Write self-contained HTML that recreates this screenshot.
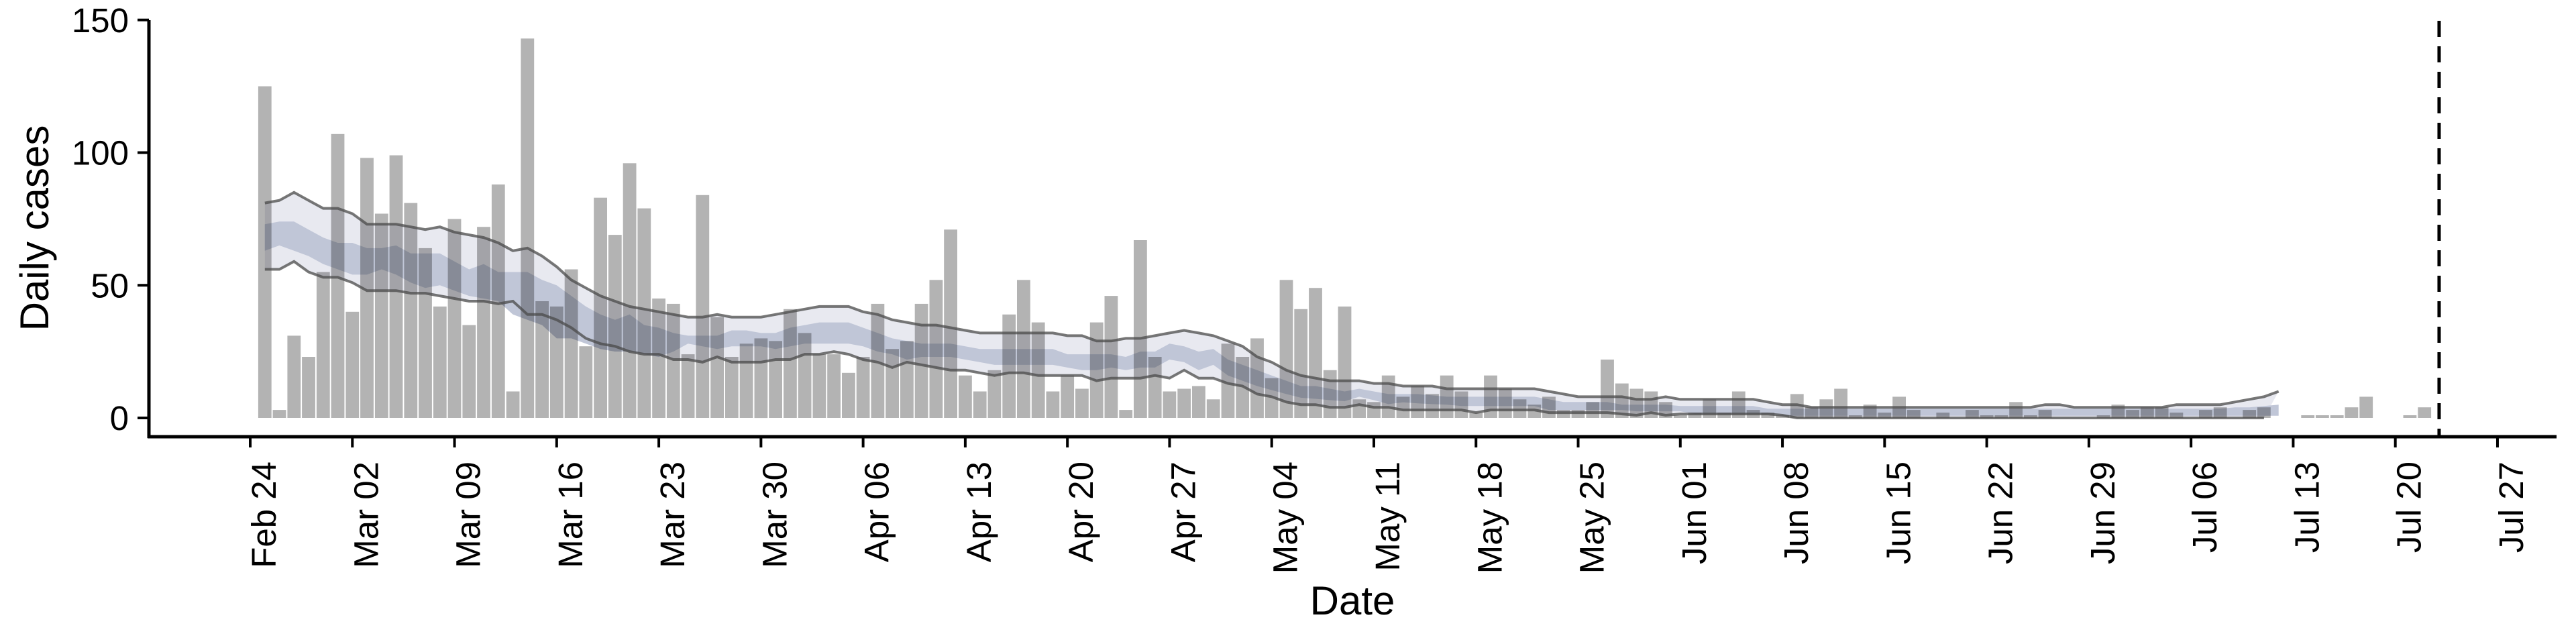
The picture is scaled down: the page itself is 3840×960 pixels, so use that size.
<!DOCTYPE html>
<html>
<head>
<meta charset="utf-8">
<style>
  html, body { margin: 0; padding: 0; background: #ffffff; }
  svg { display: block; }
  text { font-family: "Liberation Sans", "DejaVu Sans", sans-serif; fill: #000; }
</style>
</head>
<body>
<svg id="chart" width="3840" height="960" viewBox="0 0 3840 960" xmlns="http://www.w3.org/2000/svg">
  <g id="bands"></g>
  <g id="bars"></g>
  <g id="lines"></g>
  <g id="axes"></g>
  <text x="0" y="0" font-size="60" text-anchor="middle" transform="translate(72,340) rotate(-90)">Daily cases</text>
  <text x="2016" y="916" font-size="60" text-anchor="middle">Date</text>
</svg>
<script>
// ---- data (day index: 0 = Feb 24) ----
const caseStartDay = 1;
const dailyCases = [125,3,31,23,55,107,40,98,77,99,81,64,42,75,35,72,88,10,143,44,42,56,27,83,69,96,79,45,43,24,84,38,23,28,30,29,41,32,24,24,17,23,43,26,29,43,52,71,16,10,18,39,52,36,10,16,11,36,46,3,67,23,10,11,12,7,28,23,30,15,52,41,49,18,42,7,6,16,8,12,9,16,10,2,16,11,7,5,8,3,3,6,22,13,11,10,6,1,2,7,2,10,3,2,1,9,4,7,11,1,5,2,8,3,0,2,0,3,1,1,6,1,3,0,0,0,1,5,3,4,4,2,0,3,4,0,3,4,0,0,1,1,1,4,8,0,0,1,4];
const modelStartDay = 1;
const outerUpper = [81,82,85,82,79,79,77,73,73,73, 72,71,72,70,69,68,66,63,64,61, 57,52,49,46,44,42,41,40,39,38, 38,39,38,38,38,39,40,41,42,42, 42,40,39,37,36,35,35,34,33,32, 32,32,32,32,32,31,31,29,29,30,
  30,31,32,33,32,31,29,27,23,21, 18,16,15,14,14,14,13,13,12,12, 12,11,
  11,11,11,11,11,11, 10,9,8,8,8,8,7,7,8,7, 7,7,7,7,7, 6,5,5, 4,4,4,4,4,4,4,4,4,4,4,4,4,4,4,4, 5,5, 4,4,4,4,4,4,4, 5,5,5,5, 6,7,8,10];
const outerLower = [56,56,59,55,53,53,51,48,48,48, 47,47,46,45,44,44,43,44,39,39, 37,34,30,28,27,25,24,24,22,22, 21,23,21,21,21,22,22,24,24,25, 24,22,21,19,21,20,19,18,18,17, 16,17,17,16,16,16,16,14,15,15,
  15,16,15,18,15,15,13,12,9,8, 6,5,5,4,4,5,4,4,3,3, 3,3,
  3,2,3,3,3,3,2,2,2,2,2,1.5,1,2,1, 1.5,1.5,1.5,1.5,1.5,1.5,1.5, 1, 0,0,0,0,0,0,0,0,0,0,0,0,0,0,0,0,0,0,0,0,0,0,0,0,0,0,0,0,0,0,0,0,0];
const innerUpper = [73,74,74,71,68,66,66,64,64,65, 62,62,62,59,56,58,55,55,55,52, 50,46,42,39,37,39,35,34,32,31, 31,31,33,33,32,32,34,35,36,36, 36,34,32,30,29,28,28,28,27,26, 26,26,26,26,26,24,24,24,24,23,
  25,25,28,27,25,26,22,20,18,16, 14,12,12,11,10,11,10,9,9,9, 8.5,8,
  8,8,8,8,8,8, 7, 6,6,6,6, 5,5,5,5, 4.5,4.5,4.5,4.5,4.5,4.5, 3.5,3.5,3.5,3.5,3.5,3.5,3.5,3.5,3.5,3.5,3.5,3.5,3.5,3.5,3.5,3.5,3.5,3.5,3.5,3.5,3.5,3.5,3.5,3.5,3.5,3.5,3.5,3.5,3.5,3.5,3.5,3.5, 4,4,4.5,5];
const innerLower = [63,65,63,61,58,56,54,54,56,54, 51,49,50,48,46,45,44,39,37,35, 30,30,28,26,25,25,24,23,25,28, 27,26,27,27,27,26,27,28,28,28, 28,27,25,24,22,23,23,23,22,21, 20,20,20,20,20,19,18,18,19,18,
  19,19,22,21,18,20,16,14,12,10.5, 9,7.6,7.2,6.7,6.3,8,6.7,5.2,5.9,5.5, 5.2,5,
  4.5,4.5,4.5,4.5,4.5,4.5, 3,3,3,3,3,3, 2.5,2.5,2.5,2.5, 1.5,1.5,1.5,1.5,1.5,1.5, 0.8,0.8,0.8,0.8,0.8,0.8,0.8,0.8,0.8,0.8,0.8,0.8,0.8,0.8,0.8,0.8,0.8,0.8,0.8,0.8,0.8,0.8,0.8,0.8,0.8,0.8,0.8,0.8,0.8,0.8,0.8,0.8,0.8,0.8,0.8];
const yTicks = [0,50,100,150];
const xTickLabels = ["Feb 24","Mar 02","Mar 09","Mar 16","Mar 23","Mar 30","Apr 06","Apr 13","Apr 20","Apr 27","May 04","May 11","May 18","May 25","Jun 01","Jun 08","Jun 15","Jun 22","Jun 29","Jul 06","Jul 13","Jul 20","Jul 27"];
const xTickStep = 7;
const cutoffDay = 150;

// ---- scales ----
const X0 = 373, DAY = 21.753, Y0 = 623, YU = 3.955;
function xs(d) { return X0 + d * DAY; }
function ys(v) { return Y0 - v * YU; }
const NS = "http://www.w3.org/2000/svg";
function mk(tag, attrs, parent) {
  const e = document.createElementNS(NS, tag);
  for (const k in attrs) e.setAttribute(k, attrs[k]);
  parent.appendChild(e);
  return e;
}

// ---- bands ----
const bands = document.getElementById('bands');
function bandPath(up, lo) {
  let p = '';
  for (let i = 0; i < up.length; i++) p += (i ? 'L' : 'M') + xs(modelStartDay + i).toFixed(1) + ',' + ys(up[i]).toFixed(1);
  for (let i = lo.length - 1; i >= 0; i--) p += 'L' + xs(modelStartDay + i).toFixed(1) + ',' + ys(lo[i]).toFixed(1);
  return p + 'Z';
}
const ob = mk('path', { d: bandPath(outerUpper, outerLower), fill: '#e8e9f0' }, bands);


const ib = mk('path', { d: bandPath(innerUpper, innerLower), fill: '#c0c6d7' }, bands);



// ---- bars ----
const barsG = document.getElementById('bars');
dailyCases.forEach((v, i) => {
  if (v <= 0) return;
  const d = caseStartDay + i;
  const r = mk('rect', { x: (xs(d) - 9.9).toFixed(1), y: ys(v).toFixed(1), width: 19.8, height: (v * YU).toFixed(1), fill: '#b3b3b3', style: 'mix-blend-mode:multiply' }, barsG);
  
  
});

// ---- bound lines ----
const linesG = document.getElementById('lines');
function linePts(arr) {
  return arr.map((v, i) => xs(modelStartDay + i).toFixed(1) + ',' + ys(v).toFixed(1)).join(' ');
}
const lu = mk('polyline', { points: linePts(outerUpper), fill: 'none', stroke: '#4a4a4a', 'stroke-opacity': 0.75, 'stroke-width': 4 }, linesG);


const ll = mk('polyline', { points: linePts(outerLower), fill: 'none', stroke: '#4a4a4a', 'stroke-opacity': 0.75, 'stroke-width': 4 }, linesG);



// ---- axes ----
const ax = document.getElementById('axes');
const ya = mk('line', { x1: 222, y1: 30, x2: 222, y2: 653, stroke: '#000', 'stroke-width': 5 }, ax);


const xa = mk('line', { x1: 220, y1: 651, x2: 3811, y2: 651, stroke: '#000', 'stroke-width': 5 }, ax);


yTicks.forEach(v => {
  const t = mk('line', { x1: 205, y1: ys(v), x2: 222, y2: ys(v), stroke: '#000', 'stroke-width': 4 }, ax);
  
  
  const l = mk('text', { x: 192, y: ys(v) + 18, 'font-size': 51, 'text-anchor': 'end' }, ax);
  l.textContent = String(v);
  
  
});
xTickLabels.forEach((lab, i) => {
  const x = xs(i * xTickStep);
  const t = mk('line', { x1: x, y1: 651, x2: x, y2: 667, stroke: '#000', 'stroke-width': 4 }, ax);
  
  
  const l = mk('text', { x: 0, y: 0, 'font-size': 51, 'text-anchor': 'end', transform: 'translate(' + (x + 38).toFixed(1) + ',688) rotate(-90)' }, ax);
  l.textContent = lab;
  
  
});
const cut = mk('line', { x1: xs(cutoffDay), y1: 31, x2: xs(cutoffDay), y2: 651, stroke: '#000', 'stroke-width': 5, 'stroke-dasharray': '24,14' }, ax);


</script>
</body>
</html>
